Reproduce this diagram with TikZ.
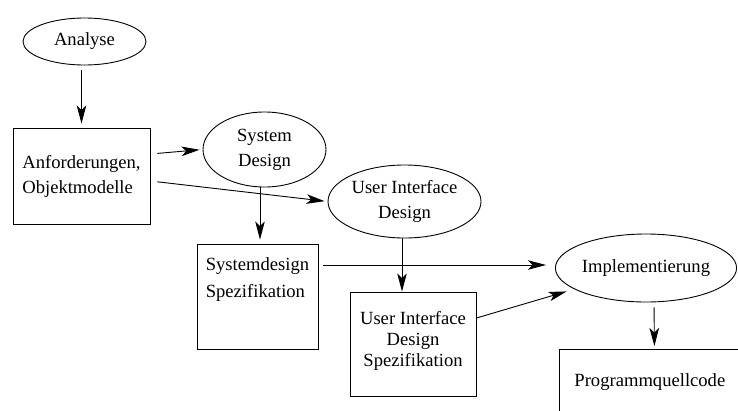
\documentclass[tikz,border=0pt]{standalone}
\usepackage{fontspec}
\setmainfont{Liberation Serif}
\usetikzlibrary{arrows.meta,shapes.geometric}
\begin{document}
\begin{tikzpicture}[x=1pt,y=-1pt,
  every node/.style={font=\fontsize{18.6}{25}\selectfont, inner sep=0pt},
  oval/.style={draw, ellipse, line width=0.9pt, align=center},
  box/.style={draw, rectangle, line width=0.9pt},
  arr/.style={-{Stealth[length=18pt,width=9.5pt,inset=4.5pt]}, line width=0.9pt}]
\useasboundingbox (0,0) rectangle (738,410);
\clip (0,0) rectangle (738,410);
\node[oval, minimum width=123pt, minimum height=47pt] (ana) at (84.5,41.5) {Analyse};
\node[box, minimum width=137pt, minimum height=96pt, align=left] (anf) at (81.5,176) {Anforderungen,\\Objektmodelle};
\node[oval, minimum width=123pt, minimum height=75pt] (sd) at (264.5,149.5) {System\\Design};
\node[oval, minimum width=153pt, minimum height=73pt] (uid) at (404.5,201.5) {User Interface\\Design};
\node[box, minimum width=121pt, minimum height=105pt, align=left, text depth=38pt, font=\fontsize{18.6}{27}\selectfont] (sds) at (257.5,296.5) {Systemdesign\\Spezifikation};
\node[box, minimum width=126pt, minimum height=104pt, align=center, text depth=11pt, font=\fontsize{18.6}{21}\selectfont] (uids) at (413,344) {User Interface\\Design\\Spezifikation};
\node[oval, minimum width=164pt, minimum height=68pt] (impl) at (646,268) {Implementierung};
\node[box, anchor=north west, text width=190pt, align=left, minimum height=66pt] (code) at (559,349) {\hspace*{15pt}Programmquellcode};
\draw[arr, shorten <=5pt, shorten >=4pt] (ana.south -| anf.north) -- (anf.north);
\draw[arr, shorten <=7pt, shorten >=3pt] ([yshift=22pt]anf.east) -- (sd.west);
\draw[arr, shorten <=7pt, shorten >=3pt] ([yshift=-5pt]anf.east) -- (uid.west);
\draw[arr, shorten >=4pt] ([xshift=-4.5pt]sd.south) -- ([xshift=2.5pt]sds.north);
\draw[arr] ([xshift=-2.5pt]uid.south) -- ([xshift=-11pt]uids.north);
\draw[arr, shorten <=5pt, shorten >=9pt] ([yshift=31.5pt]sds.east) -- ([yshift=3pt]impl.west);
\draw[arr, shorten >=8pt] ([yshift=26pt]uids.east) -- (impl);
\draw[arr, shorten <=5pt, shorten >=3pt] ([xshift=8pt]impl.south) -- (code.north);
\end{tikzpicture}
\end{document}
